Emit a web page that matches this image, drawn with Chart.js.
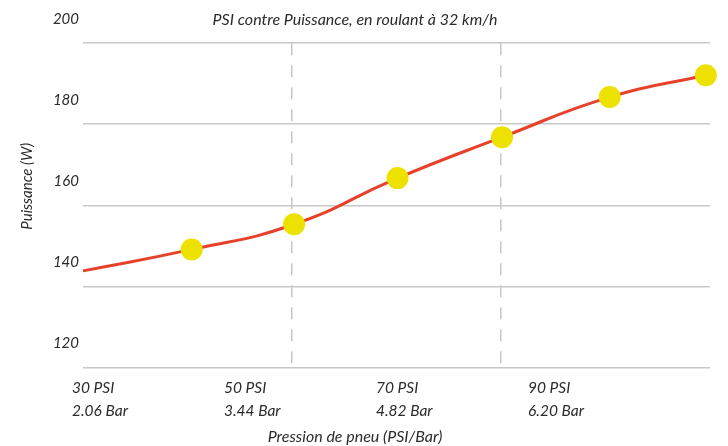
<!DOCTYPE html>
<html>
<head>
<meta charset="utf-8">
<script src="https://cdn.jsdelivr.net/npm/chart.js@4/dist/chart.umd.min.js"></script>
<style>
  html, body { margin: 0; padding: 0; background: #fff; }
  #wrap { width: 728px; height: 446px; }
</style>
</head>
<body>
<div id="wrap"><canvas id="psiChart"></canvas></div>
<script>
// données
const psiValues = [30, 40.4, 50.2, 60.1, 70.1, 80.4, 89.6];
const powerValues = [143.8, 149.1, 155.3, 166.7, 176.8, 186.7, 192.1];

// étiquettes de l'axe X
const psiTicks = [30, 50, 70, 90];
const barTicks = ["2.06", "3.44", "4.82", "6.20"];
const dashedAt = [50, 70];

const textColor = "#2b2b2b";
const gridColor = "#c8c8c8";
const italic = size => ({ family: "Lato", style: "italic", size: size });

Chart.defaults.font.family = "Lato";
Chart.defaults.color = textColor;

const points = psiValues.map((x, i) => ({ x: x, y: powerValues[i] }));

new Chart(document.getElementById("psiChart"), {
    type: "line",
    data: {
        datasets: [{
            data: points,
            borderColor: "#e8412b",
            borderWidth: 3,
            tension: 0.5,
            pointRadius: ctx => ctx.dataIndex === 0 ? 0 : 11,
            pointHoverRadius: ctx => ctx.dataIndex === 0 ? 0 : 11,
            pointBackgroundColor: "#ede100",
            pointBorderWidth: 0,
            clip: false
        }]
    },
    options: {
        responsive: true,
        maintainAspectRatio: false,
        animation: false,
        layout: {
            padding: { left: 0, right: 18, top: 0, bottom: 0 }
        },
        plugins: {
            legend: { display: false },
            tooltip: { enabled: false },
            title: {
                display: true,
                text: "PSI contre Puissance, en roulant à 32 km/h",
                color: textColor,
                font: { ...italic(16), weight: "normal" },
                padding: { top: 10, bottom: 14 }
            },
            subtitle: {
                display: true,
                position: "bottom",
                text: "Pression de pneu (PSI/Bar)",
                color: textColor,
                font: italic(16),
                padding: { top: 4, bottom: 0 }
            }
        },
        scales: {
            x: {
                type: "linear",
                min: 30,
                max: 90,
                afterFit: s => { s.height = 0; },
                ticks: { display: false, stepSize: 20 },
                grid: {
                    drawTicks: false,
                    lineWidth: 1.5,
                    color: ctx => dashedAt.includes(ctx.tick && ctx.tick.value) ? gridColor : "transparent"
                },
                border: { display: false, dash: [12, 10] }
            },
            x2: {
                type: "linear",
                position: "bottom",
                min: 30,
                max: 112.5,
                afterBuildTicks: s => { s.ticks = psiTicks.map(v => ({ value: v })); },
                afterFit: s => { s.height = 55.5; },
                grid: { display: false, drawTicks: false },
                border: { display: false },
                ticks: {
                    autoSkip: false,
                    maxRotation: 0,
                    align: "start",
                    labelOffset: -11,
                    padding: 9.5,
                    color: textColor,
                    font: { ...italic(15.5), lineHeight: 1.48 },
                    callback: v => {
                        const i = psiTicks.indexOf(v);
                        return i < 0 ? "" : [psiTicks[i] + " PSI", barTicks[i] + " Bar"];
                    }
                }
            },
            y: {
                min: 120,
                max: 200,
                afterFit: s => { s.width = 83; },
                ticks: {
                    stepSize: 20,
                    padding: 4,
                    labelOffset: -24,
                    color: textColor,
                    font: italic(15)
                },
                grid: { drawTicks: false, color: gridColor, lineWidth: 1.5 },
                border: { display: false },
                title: {
                    display: true,
                    text: "\u2003\u2003\u2003\u2002Puissance (W)",
                    color: textColor,
                    font: italic(15),
                    padding: { top: 18.5, bottom: 0 }
                }
            }
        }
    }
});
</script>
</body>
</html>
